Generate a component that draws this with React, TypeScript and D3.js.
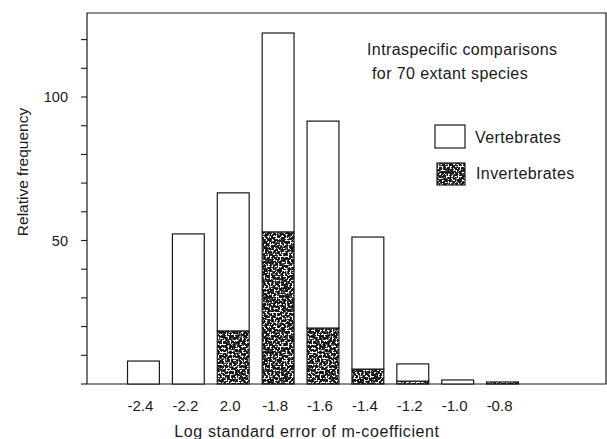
import React from 'react'
import * as d3 from 'd3'

// bins of log standard error (the "2.0" label is printed that way in the original)
const bins = ['-2.4', '-2.2', '2.0', '-1.8', '-1.6', '-1.4', '-1.2', '-1.0', '-0.8']
const vertebrates = [8, 52.3, 48.1, 69.3, 72.1, 46, 6, 1.4, 0]
const invertebrates = [0, 0, 18.5, 53, 19.5, 5.2, 1, 0, 0.7]
const yTicks = [0, 10, 20, 30, 40, 50, 60, 70, 80, 90, 100, 110, 120]
const yLabels = [50, 100]

const W = 607
const H = 439
const left = 87
const top = 13
const right = 606
const bottom = 384
const font = '"Liberation Sans", Arial, sans-serif'
const ink = '#1a1a1a'

const App = () => {
  const x = d3.scaleBand<string>().domain(bins).range([121, 525]).paddingInner(0.29).paddingOuter(0.145)
  const y = d3.scaleLinear().domain([0, 100]).range([bottom, bottom - 287])

  const rows = bins.map((b, i) => ({ bin: b, inv: invertebrates[i], vert: vertebrates[i] }))
  const stacked = d3.stack<any>().keys(['inv', 'vert'])(rows)

  return (
    <svg width={W} height={H} style={{ position: 'absolute', left: 0, top: 0, background: '#fff' }}>
      <defs>
        <filter id="speck" x="0" y="0" width="100%" height="100%" filterUnits="userSpaceOnUse">
          <feTurbulence type="fractalNoise" baseFrequency="0.5" numOctaves="2" seed="7" />
          <feColorMatrix type="matrix" values="0 0 0 0 1  0 0 0 0 1  0 0 0 0 1  10 0 0 0 -4.9" />
        </filter>
        <pattern id="noise" patternUnits="userSpaceOnUse" width="90" height="90">
          <rect width="90" height="90" fill="#111" />
          <rect width="90" height="90" fill="#fff" filter="url(#speck)" />
        </pattern>
      </defs>

      {/* frame */}
      <path d={`M${left},${bottom}V${top}H${right}V${bottom}Z`} fill="none" stroke={ink} strokeWidth={1.2} />

      {/* y ticks */}
      {yTicks.map(t => (
        <line key={t} x1={left - 6} x2={left} y1={y(t)} y2={y(t)} stroke={ink} strokeWidth={1.1} />
      ))}
      {yLabels.map(t => (
        <text key={t} x={68} y={y(t)} dy="0.35em" textAnchor="end" fontFamily={font} fontSize={14.5} fill={ink}>{t}</text>
      ))}
      <text transform={`translate(28,172) rotate(-90)`} textAnchor="middle" fontFamily={font} fontSize={15.5} fill={ink}>
        Relative frequency
      </text>

      {/* bars */}
      {stacked.map(layer => (
        <g key={layer.key}>
          {layer.map((d, i) => {
            const h = y(d[0]) - y(d[1])
            if (h <= 0) return null
            return (
              <rect key={i} x={x(bins[i])} y={y(d[1])} width={x.bandwidth()} height={h}
                fill={layer.key === 'inv' ? 'url(#noise)' : '#fff'} stroke={ink} strokeWidth={1.2} />
            )
          })}
        </g>
      ))}

      {/* x labels */}
      {bins.map(b => (
        <text key={b} x={(x(b) as number) + x.bandwidth() / 2 - 3} y={406} dy="0.35em" textAnchor="middle"
          fontFamily={font} fontSize={15} fill={ink}>{b}</text>
      ))}
      <text x={307} y={431} dy="0.35em" textAnchor="middle" fontFamily={font} fontSize={16} letterSpacing={0.6} fill={ink}>
        Log standard error of m-coefficient
      </text>

      {/* annotation + legend */}
      <text x={367} y={49} dy="0.35em" fontFamily={font} fontSize={16} letterSpacing={0.4} fill={ink}>Intraspecific comparisons</text>
      <text x={372} y={73} dy="0.35em" fontFamily={font} fontSize={16} letterSpacing={0.4} fill={ink}>for 70 extant species</text>

      <rect x={435} y={125} width={30} height={23} fill="#fff" stroke={ink} strokeWidth={1.2} />
      <text x={475} y={137} dy="0.35em" fontFamily={font} fontSize={16} letterSpacing={0.4} fill={ink}>Vertebrates</text>
      <rect x={437} y={163} width={28} height={22} fill="url(#noise)" stroke={ink} strokeWidth={1.2} />
      <text x={476} y={173} dy="0.35em" fontFamily={font} fontSize={16} letterSpacing={0.4} fill={ink}>Invertebrates</text>
    </svg>
  )
}

export default App
